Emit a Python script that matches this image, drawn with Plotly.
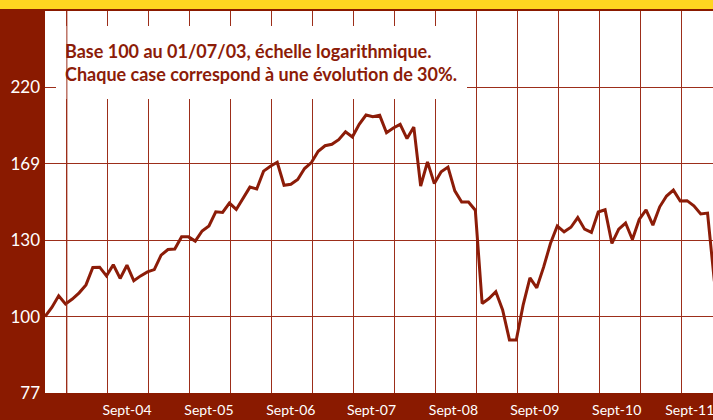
import math
import plotly.graph_objects as go

# Index, base 100 on 01/07/2003, one value per month (month 0 = July 2003)
months = list(range(99))
index_values = [
    100.0, 103.2, 107.4, 104.4, 106.2, 108.5, 111.5, 118.4, 118.5, 115.0,
    119.5, 114.0, 119.3, 113.1, 115.0, 116.6, 117.5, 123.5, 125.9, 126.1,
    131.5, 131.5, 129.6, 134.2, 136.5, 143.3, 143.0, 147.7, 144.5, 150.0,
    156.0, 155.0, 164.8, 167.6, 169.9, 157.0, 157.5, 160.1, 166.3, 169.7,
    176.4, 179.8, 180.7, 183.6, 188.7, 185.3, 193.5, 199.8, 198.6, 199.6,
    188.0, 191.1, 193.5, 184.3, 191.7, 156.6, 170.1, 157.9, 164.4, 167.1,
    154.0, 148.2, 148.2, 144.1, 104.6, 106.4, 108.9, 102.3, 92.3, 92.3,
    104.0, 114.2, 110.4, 118.5, 128.5, 136.5, 133.8, 135.9, 140.5, 135.0,
    133.5, 143.2, 144.3, 128.6, 135.0, 137.9, 130.3, 139.6, 144.3, 136.9,
    145.8, 151.3, 154.4, 148.7, 148.9, 146.3, 142.3, 142.7, 112.9,
]

# Axis labels
y_tick_values = [100 / 1.3, 100, 130, 169, 219.7]
y_tick_labels = ["77", "100", "130", "169", "220"]
x_tick_values = [12, 24, 36, 47.8, 59.8, 71.7, 83.7, 94.4]
x_tick_labels = ["Sept-04", "Sept-05", "Sept-06", "Sept-07",
                 "Sept-08", "Sept-09", "Sept-10", "Sept-11"]

MAROON = "#8a1a00"
LINE = "#8c1c08"
GRID = "#9c2e1a"
YELLOW = "#ffd520"
FONT = "Lato"

fig = go.Figure()
fig.add_trace(go.Scatter(
    x=months, y=index_values, mode="lines",
    line=dict(color=LINE, width=3), hoverinfo="skip", showlegend=False,
))

W, H = 713, 420
ml, mr, mt, mb = 45, 0, 11, 27
pw, ph = W - ml - mr, H - mt - mb


def px_x(p):
    return (p - ml) / pw


def px_y(p):
    return 1 - (p - mt) / ph


fig.update_layout(
    width=W, height=H,
    margin=dict(l=ml, r=mr, t=mt, b=mb, pad=0),
    paper_bgcolor=MAROON, plot_bgcolor="#ffffff",
    xaxis=dict(
        range=[0, 97.8], automargin=False,
        showgrid=False, zeroline=False, showline=False,
        tickmode="array", tickvals=x_tick_values, ticktext=x_tick_labels,
        ticks="", ticklabelstandoff=7,
        ticklabeloverflow="allow",
        tickfont=dict(family=FONT, size=14, color="#ffffff"),
        minor=dict(tick0=3.2, dtick=6, showgrid=True, gridcolor=GRID,
                   gridwidth=1, ticks=""),
    ),
    yaxis=dict(
        type="log", automargin=False,
        range=[math.log10(100 / 1.3), math.log10(100 * 1.3 ** 4)],
        showgrid=True, gridcolor=GRID, gridwidth=1, zeroline=False,
        showline=False, tickmode="array", tickvals=y_tick_values,
        ticktext=y_tick_labels, ticks="", ticklabelstandoff=4,
        tickfont=dict(family=FONT, size=17, color="#ffffff"),
    ),
    shapes=[
        # yellow header band
        dict(type="rect", xref="paper", yref="paper",
             x0=-0.1, x1=1.1, y0=px_y(9), y1=px_y(-5),
             fillcolor=YELLOW, line=dict(width=0), layer="above"),
        # white panel behind the caption
        dict(type="rect", xref="paper", yref="paper",
             x0=px_x(56), x1=px_x(467), y0=px_y(99), y1=px_y(26),
             fillcolor="#ffffff", line=dict(width=0), layer="above"),
        # first vertical rule runs through the caption panel
        dict(type="line", xref="x", yref="paper", x0=3.2, x1=3.2, y0=0, y1=1,
             line=dict(color=GRID, width=1), layer="above"),
    ],
    annotations=[
        dict(xref="paper", yref="paper", x=px_x(63), y=px_y(62.5),
             xanchor="left", yanchor="middle", align="left", showarrow=False,
             text="Base 100 au 01/07/03, échelle logarithmique.<br>"
                  "Chaque case correspond à une évolution de 30%.",
             font=dict(family=FONT, size=18, color=LINE, weight="bold")),
    ],
)

fig.write_html("out.html")
